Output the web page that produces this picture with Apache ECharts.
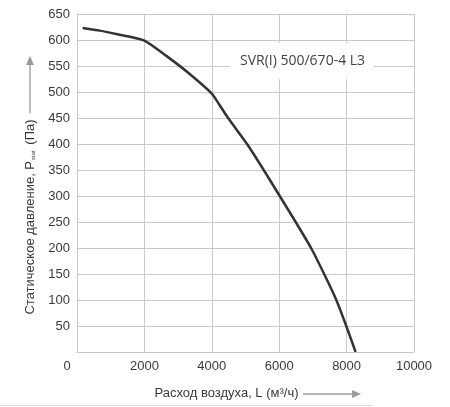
<!DOCTYPE html>
<html>
<head>
<meta charset="utf-8">
<script src="https://cdn.jsdelivr.net/npm/echarts@6/dist/echarts.min.js"></script>
<style>
  html, body { margin: 0; padding: 0; background: #fff; }
  #chart { width: 450px; height: 407px; }
</style>
</head>
<body>
<div id="chart"></div>
<script>
// fan curve
var airflow = [168, 680, 1200, 2000, 2660, 3300, 4000, 4200, 4483, 5046, 5541, 6015, 6489, 6954, 7348, 7695, 7990, 8267];
var pressure = [623, 618, 611, 599, 569, 537, 497, 478, 450, 400, 350, 300, 250, 199, 148, 100, 50, 0];

var modelName = 'SVR(I) 500/670-4 L3';
var xTitle = 'Расход воздуха, L (м³/ч)';
var yTitle = ['Статическое давление, P', 'stat', ' (Па)'];

var gridColor = '#c9c9c9';
var textColor = '#3a3a3a';
var arrowColor = '#9a9a9a';

var chart = echarts.init(document.getElementById('chart'));

var points = airflow.map(function(x, i) { return [x, pressure[i]]; });

var option = {
    backgroundColor: '#ffffff',
    animation: false,
    title: {
        text: modelName,
        left: 230,
        top: 43,
        padding: [11, 9, 11, 10],
        backgroundColor: '#ffffff',
        textStyle: {
            fontFamily: '"Open Sans", sans-serif',
            fontSize: 14,
            fontWeight: 'normal',
            color: '#444444'
        }
    },
    grid: {
        left: 77,
        right: 36,
        top: 14,
        bottom: 55,
        show: false
    },
    xAxis: {
        type: 'value',
        min: 0,
        max: 10000,
        interval: 2000,
        name: xTitle,
        nameLocation: 'middle',
        nameGap: 35,
        nameTextStyle: {
            fontFamily: '"Liberation Sans", Arial, sans-serif',
            fontSize: 13,
            color: textColor,
            padding: [0, 38, 0, 0]
        },
        axisLine: { show: true, lineStyle: { color: gridColor, width: 1 } },
        axisTick: { show: false },
        axisLabel: {
            margin: 8,
            fontFamily: '"Liberation Sans", Arial, sans-serif',
            fontSize: 13,
            color: textColor,
            formatter: function(v) {
                return v === 0 ? '{z|0}' : String(v);
            },
            rich: {
                z: {
                    fontFamily: '"Liberation Sans", Arial, sans-serif',
                    fontSize: 13,
                    color: textColor,
                    padding: [0, 20, 0, 0]
                }
            }
        },
        splitLine: { show: true, lineStyle: { color: gridColor, width: 1 } }
    },
    yAxis: {
        type: 'value',
        min: 0,
        max: 650,
        interval: 50,
        name: '{a|' + yTitle[0] + '}{s|' + yTitle[1] + '}{a|' + yTitle[2] + '}',
        nameLocation: 'middle',
        nameGap: 40,
        nameTextStyle: {
            padding: [0, 68, 0, 0],
            rich: {
                a: {
                    fontFamily: '"Liberation Sans", Arial, sans-serif',
                    fontSize: 13,
                    color: textColor
                },
                s: {
                    fontFamily: '"Liberation Sans", Arial, sans-serif',
                    fontSize: 6,
                    color: textColor,
                    padding: [6, 2, 0, 1]
                }
            }
        },
        axisLine: { show: true, lineStyle: { color: gridColor, width: 1 } },
        axisTick: { show: false },
        axisLabel: {
            margin: 7,
            showMinLabel: false,
            fontFamily: '"Liberation Sans", Arial, sans-serif',
            fontSize: 13,
            color: textColor
        },
        splitLine: { show: true, lineStyle: { color: gridColor, width: 1 } }
    },
    graphic: [
        {
            // arrow next to the pressure title
            type: 'line',
            shape: { x1: 30, y1: 113, x2: 30, y2: 63 },
            style: { stroke: arrowColor, lineWidth: 1.3 }
        },
        {
            type: 'polygon',
            shape: { points: [[30, 56], [26, 65], [34, 65]] },
            style: { fill: arrowColor }
        },
        {
            // arrow next to the airflow title
            type: 'line',
            shape: { x1: 303, y1: 394, x2: 353, y2: 394 },
            style: { stroke: arrowColor, lineWidth: 1.3 }
        },
        {
            type: 'polygon',
            shape: { points: [[361, 394], [352, 390], [352, 398]] },
            style: { fill: arrowColor }
        },
        {
            type: 'line',
            shape: { x1: 0, y1: 405.5, x2: 373, y2: 405.5 },
            style: { stroke: '#dddddd', lineWidth: 1 }
        }
    ],
    series: [{
        type: 'line',
        data: points,
        smooth: 0.2,
        symbol: 'none',
        lineStyle: { color: '#333333', width: 2.5 },
        z: 3
    }]
};

chart.setOption(option);
</script>
</body>
</html>
